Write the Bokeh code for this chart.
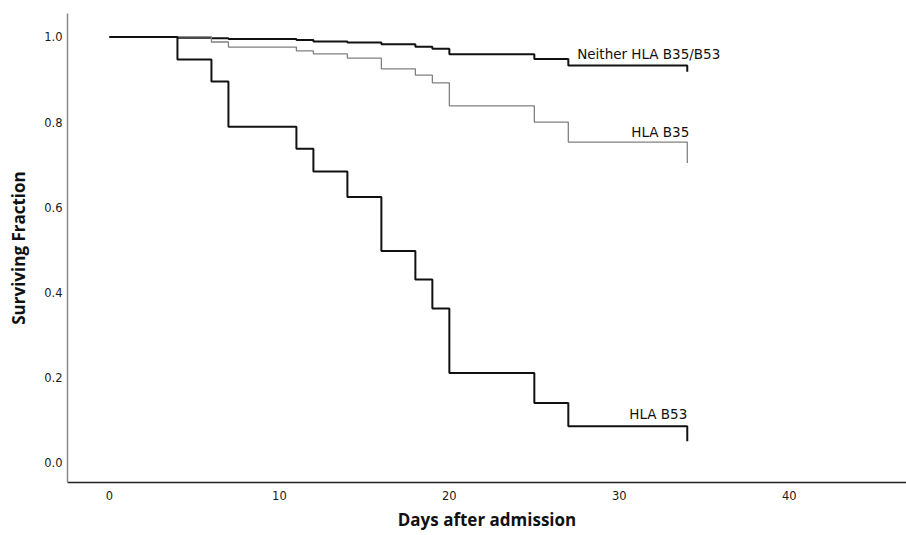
from bokeh.plotting import figure
from bokeh.models import Range1d, FixedTicker, CustomJSTickFormatter
from bokeh.core.properties import value
from bokeh.embed import file_html
from bokeh.resources import INLINE

# Kaplan-Meier step data
days_neither = [0, 4, 6, 7, 11, 12, 14, 16, 18, 19, 20, 25, 27, 34]
surv_neither = [1.0, 0.998, 0.997, 0.995, 0.993, 0.989, 0.987, 0.983, 0.977, 0.972, 0.959, 0.948, 0.933, 0.918]

days_b35 = [0, 6, 7, 11, 12, 14, 16, 18, 19, 20, 25, 27, 34]
surv_b35 = [1.0, 0.988, 0.976, 0.967, 0.96, 0.95, 0.925, 0.91, 0.892, 0.838, 0.80, 0.753, 0.704]

days_b53 = [0, 4, 6, 7, 11, 12, 14, 16, 18, 19, 20, 25, 27, 34]
surv_b53 = [1.0, 0.947, 0.895, 0.789, 0.737, 0.684, 0.624, 0.497, 0.43, 0.362, 0.21, 0.14, 0.085, 0.05]

series_labels = ["Neither HLA B35/B53", "HLA B35", "HLA B53"]
x_ticks = [0, 10, 20, 30, 40]
y_ticks = [0.0, 0.2, 0.4, 0.6, 0.8, 1.0]

p = figure(width=906, height=535, output_backend="svg", toolbar_location=None,
           x_range=Range1d(-2.47, 46.9), y_range=Range1d(-0.047, 1.055),
           min_border_left=67, min_border_right=0, min_border_top=13, min_border_bottom=53)
p.outline_line_color = None
p.grid.visible = False
p.background_fill_color = "white"
p.border_fill_color = "white"

p.step(days_neither, surv_neither, mode="after", line_color="#111111", line_width=2)
p.step(days_b35, surv_b35, mode="after", line_color="#808080", line_width=1.3)
p.step(days_b53, surv_b53, mode="after", line_color="#111111", line_width=2)

font = value("DejaVu Sans")
p.text(x=[days_neither[-1]], y=[surv_neither[-2]], text=[series_labels[0]],
       x_offset=33, y_offset=-3, text_align="right", text_baseline="bottom",
       text_font=font, text_font_size="13.5px", text_color="#111111")
p.text(x=[days_b35[-1]], y=[surv_b35[-2]], text=[series_labels[1]],
       x_offset=2, y_offset=-2, text_align="right", text_baseline="bottom",
       text_font=font, text_font_size="13.5px", text_color="#111111")
p.text(x=[days_b53[-1]], y=[surv_b53[-2]], text=[series_labels[2]],
       x_offset=0, y_offset=-4, text_align="right", text_baseline="bottom",
       text_font=font, text_font_size="13.5px", text_color="#111111")

p.xaxis.ticker = FixedTicker(ticks=x_ticks)
p.yaxis.ticker = FixedTicker(ticks=y_ticks)
p.yaxis.formatter = CustomJSTickFormatter(code="return tick.toFixed(1);")

for ax in (p.xaxis, p.yaxis):
    ax.major_tick_line_color = None
    ax.minor_tick_line_color = None
    ax.major_tick_out = 0
    ax.major_tick_in = 0
    ax.major_label_text_font = "DejaVu Sans"
    ax.major_label_text_font_size = "11.5px"
    ax.major_label_text_color = "#1a1a1a"
    ax.axis_label_text_font = "Open Sans"
    ax.axis_label_text_font_style = "bold"
    ax.axis_label_text_font_size = "17px"
    ax.axis_label_text_color = "#111111"

p.xaxis.axis_line_color = "#222222"
p.xaxis.axis_line_width = 1.5
p.yaxis.axis_line_color = "#888888"
p.yaxis.axis_line_width = 1.5
p.xaxis.major_label_standoff = 8
p.yaxis.major_label_standoff = 5
p.xaxis.axis_label = "Days after admission"
p.yaxis.axis_label = "Surviving Fraction"
p.xaxis.axis_label_standoff = 5
p.yaxis.axis_label_standoff = 11

open("out.html", "w").write(file_html(p, INLINE))
